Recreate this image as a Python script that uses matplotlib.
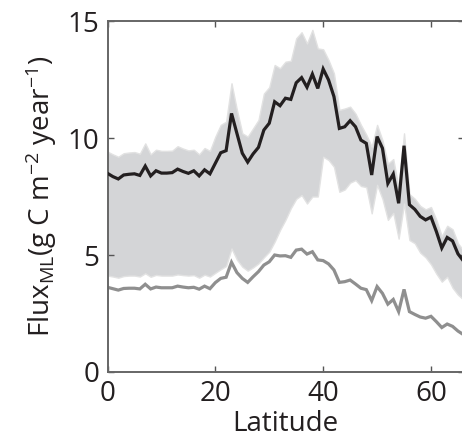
import matplotlib
matplotlib.use("Agg")
import matplotlib.pyplot as plt
import numpy as np

latitude = list(range(0, 67))

flux_high = [8.49, 8.35, 8.25, 8.42, 8.45, 8.47, 8.40, 8.80, 8.38, 8.60,
             8.50, 8.50, 8.52, 8.67, 8.57, 8.49, 8.60, 8.38, 8.64, 8.47,
             8.92, 9.37, 9.46, 11.05, 10.20, 9.35, 8.97, 9.32, 9.60, 10.34,
             10.63, 11.55, 11.38, 11.70, 11.65, 12.36, 12.58, 12.17, 12.73, 12.12,
             12.95, 12.48, 11.77, 10.41, 10.48, 10.74, 10.48, 9.91, 9.77, 8.42,
             10.06, 9.56, 8.06, 8.46, 7.21, 9.67, 7.15, 6.95, 6.65, 6.50,
             6.62, 6.00, 5.30, 5.75, 5.60, 5.05, 4.75]

flux_low = [3.62, 3.56, 3.50, 3.57, 3.58, 3.58, 3.55, 3.75, 3.55, 3.63,
            3.60, 3.60, 3.60, 3.67, 3.63, 3.60, 3.62, 3.54, 3.67, 3.56,
            3.82, 4.00, 4.05, 4.69, 4.25, 4.00, 3.83, 4.07, 4.29, 4.57,
            4.71, 5.00, 4.96, 4.97, 4.90, 5.21, 5.25, 5.04, 5.14, 4.79,
            4.76, 4.62, 4.36, 3.83, 3.86, 3.93, 3.76, 3.58, 3.52, 3.05,
            3.65, 3.36, 2.90, 3.10, 2.58, 3.53, 2.58, 2.46, 2.35, 2.30,
            2.38, 2.15, 1.90, 2.05, 1.95, 1.75, 1.60]

band_upper = [9.42, 9.30, 9.20, 9.35, 9.38, 9.40, 9.33, 9.77, 9.30, 9.50,
              9.45, 9.45, 9.46, 9.65, 9.55, 9.47, 9.50, 9.30, 9.57, 9.45,
              10.06, 10.56, 10.70, 12.34, 11.20, 10.20, 10.06, 10.41, 10.77, 11.90,
              12.17, 13.12, 12.98, 13.26, 13.30, 14.26, 14.52, 14.04, 14.62, 13.83,
              13.79, 13.33, 12.76, 11.20, 11.26, 11.34, 11.04, 10.56, 10.14, 9.63,
              10.56, 9.90, 8.90, 9.10, 7.86, 10.20, 7.60, 7.40, 7.10, 6.95,
              7.05, 6.50, 5.80, 6.25, 6.10, 5.50, 5.20]

band_lower = [4.12, 4.08, 4.03, 4.10, 4.12, 4.12, 4.08, 4.22, 4.07, 4.15,
              4.12, 4.12, 4.12, 4.17, 4.14, 4.12, 4.14, 4.03, 4.16, 4.08,
              4.24, 4.39, 4.53, 5.28, 4.80, 4.50, 4.33, 4.47, 4.64, 4.90,
              5.14, 5.57, 6.07, 6.50, 7.00, 7.40, 7.56, 7.20, 7.50, 7.50,
              9.20, 9.06, 8.77, 7.70, 7.80, 8.09, 8.20, 7.95, 7.90, 6.78,
              8.00, 7.40, 6.50, 6.80, 5.70, 7.20, 5.64, 5.50, 5.10, 4.90,
              4.60, 4.20, 3.86, 4.07, 3.60, 3.30, 3.10]

x_ticks = [0, 20, 40, 60]
y_ticks = [0, 5, 10, 15]

FONT = "Open Sans"
plt.rcParams["font.family"] = [FONT, "DejaVu Sans"]
plt.rcParams["mathtext.fontset"] = "custom"
plt.rcParams["mathtext.rm"] = FONT
plt.rcParams["mathtext.it"] = FONT

W, H = 462, 437
fig = plt.figure(figsize=(W / 100, H / 100), dpi=100)
left_px, right_px, top_px, bot_px = 107.5, 464, 21, 372
ax = fig.add_axes([left_px / W, 1 - bot_px / H, (right_px - left_px) / W, (bot_px - top_px) / H])

ax.fill_between(latitude, band_lower, band_upper, facecolor="#d4d5d7",
                edgecolor="#e2e2e2", linewidth=1.0, zorder=1)
ax.plot(latitude, flux_low, color="#8f8f8f", linewidth=2.3, zorder=2,
        solid_joinstyle="miter")
ax.plot(latitude, flux_high, color="#231f20", linewidth=2.3, zorder=3,
        solid_joinstyle="miter")

ax.set_xlim(0, (right_px - left_px) / ((431 - 107.5) / 60))
ax.set_ylim(0, 15)
ax.set_xticks(x_ticks)
ax.set_yticks(y_ticks)
ax.tick_params(direction="in", length=4, width=1, color="#555555",
               top=True, right=True, labelsize=20, pad=6, labelcolor="#231f20")
for s in ax.spines.values():
    s.set_color("#666666")
    s.set_linewidth(1.4)

ax.set_xlabel("Latitude", fontsize=20, color="#231f20", labelpad=1)
ax.set_ylabel(r"Flux$_{\mathrm{ML}}$(g C m$^{-2}$ year$^{-1}$)", fontsize=20,
              color="#231f20", labelpad=6)

fig.savefig("out.png", dpi=100)
